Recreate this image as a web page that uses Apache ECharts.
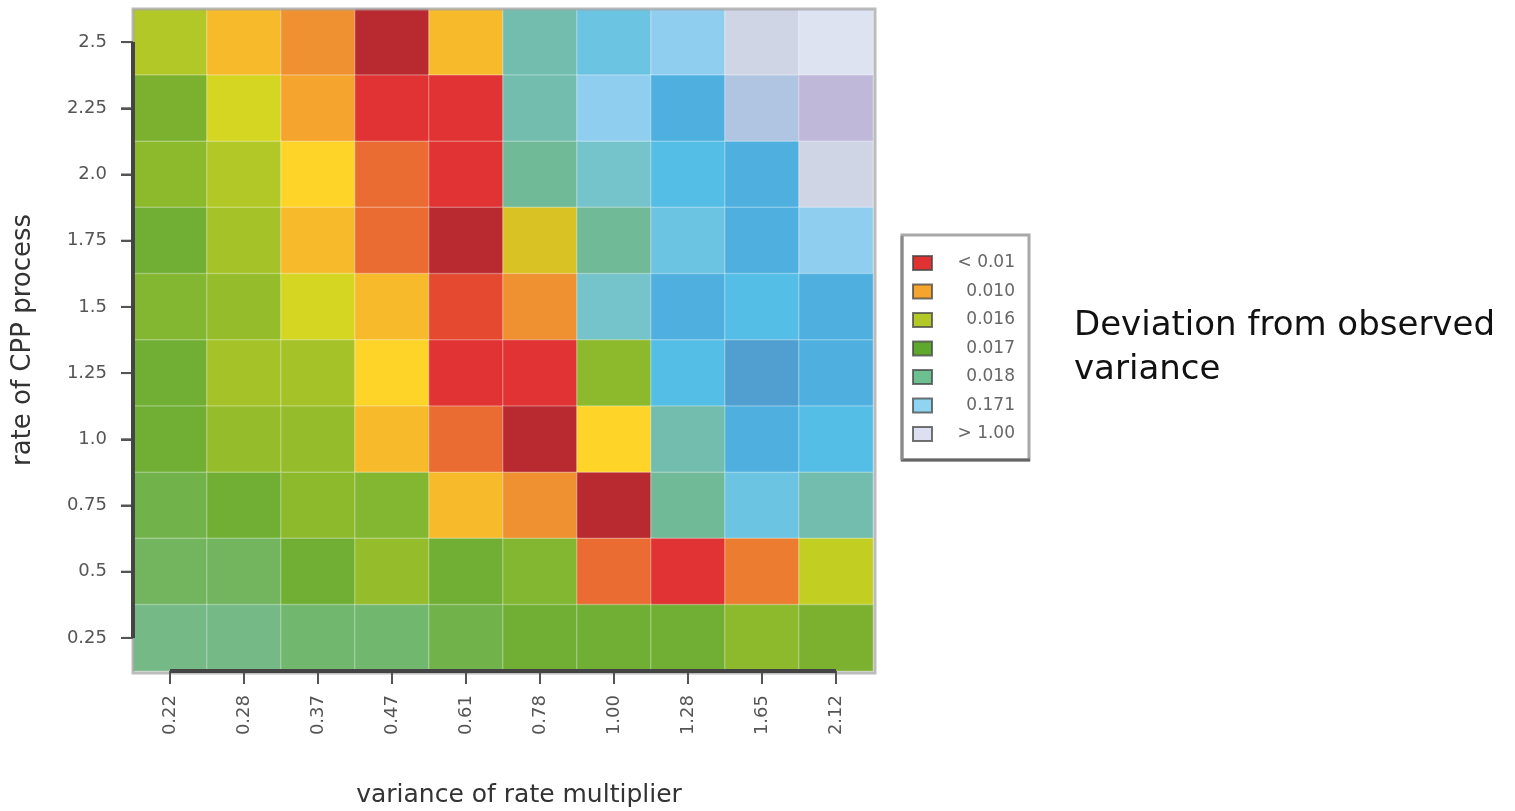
<!DOCTYPE html>
<html>
<head>
<meta charset="utf-8">
<script src="https://cdn.jsdelivr.net/npm/echarts@6/dist/echarts.min.js"></script>
<style>
  html, body { margin: 0; padding: 0; background: #ffffff; }
  #chart { width: 1515px; height: 811px; }
</style>
</head>
<body>
<div id="chart"></div>
<script>
// Axis categories
const multiplierVariance = ['0.22', '0.28', '0.37', '0.47', '0.61', '0.78', '1.00', '1.28', '1.65', '2.12'];
const cppRate = ['0.25', '0.5', '0.75', '1.0', '1.25', '1.5', '1.75', '2.0', '2.25', '2.5'];

// Deviation from observed variance, one row per CPP rate (columns follow multiplierVariance)
const dev_2_50 = [0.0150, 0.0116, 0.0101, 0.0050, 0.0116, 0.030, 0.070, 0.25, 1.2, 1.8];
const dev_2_25 = [0.01685, 0.0138, 0.0107, 0.0070, 0.0068, 0.030, 0.25, 0.125, 0.55, 0.85];
const dev_2_00 = [0.01625, 0.0150, 0.0125, 0.0091, 0.0070, 0.020, 0.050, 0.095, 0.125, 1.2];
const dev_1_75 = [0.01715, 0.0155, 0.0116, 0.0091, 0.0050, 0.0131, 0.020, 0.070, 0.125, 0.25];
const dev_1_50 = [0.01655, 0.0159, 0.0138, 0.0116, 0.0084, 0.0101, 0.050, 0.125, 0.095, 0.125];
const dev_1_25 = [0.01715, 0.0155, 0.0155, 0.0125, 0.0070, 0.0068, 0.01625, 0.095, 0.155, 0.125];
const dev_1_00 = [0.01715, 0.0159, 0.0159, 0.0116, 0.0091, 0.0050, 0.0125, 0.030, 0.125, 0.095];
const dev_0_75 = [0.01745, 0.01715, 0.01625, 0.01655, 0.0116, 0.0101, 0.0050, 0.020, 0.070, 0.030];
const dev_0_50 = [0.01775, 0.01775, 0.01715, 0.0159, 0.01715, 0.01655, 0.0091, 0.0070, 0.0096, 0.0145];
const dev_0_25 = [0.0184, 0.0184, 0.01805, 0.01805, 0.01745, 0.01715, 0.01715, 0.01715, 0.01625, 0.01685];

// Legend entries
const legendLabels = ['< 0.01', '0.010', '0.016', '0.017', '0.018', '0.171', '> 1.00'];

// Colour ramp: upper bounds of each band and the band colours (last band is open-ended)
const rampBreaks = [0.0060, 0.0080, 0.0088, 0.0094, 0.0098, 0.0104, 0.0110, 0.0122, 0.0128, 0.0134,
  0.0142, 0.0148, 0.0153, 0.0157, 0.0161, 0.0164, 0.0167, 0.0170, 0.0173, 0.0176,
  0.0179, 0.0182, 0.0186, 0.025, 0.04, 0.06, 0.08, 0.11, 0.14, 0.17,
  0.40, 0.70, 1.00, 1.50];
const rampColors = ['#B82A30', '#E13333', '#E54A30', '#EA6C33', '#EC7C30', '#EF9130', '#F5A52E', '#F7BA2B', '#FDD427', '#D9C224',
  '#D4D621', '#C2CF22', '#B2C826', '#A5C328', '#95BD2B', '#8CBA2C', '#84B731', '#7CB130', '#70AF34', '#72B24A',
  '#72B55E', '#72B76E', '#74B986', '#71BA98', '#72BDAE', '#76C4CB', '#6BC4E2', '#55BEE6', '#4FB0E0', '#519FD0',
  '#90CEF0', '#B0C5E2', '#C0B8D8', '#D0D5E6', '#DEE3F2'];
const legendColors = ['#E03232', '#F5A52E', '#B2C826', '#5EA82E', '#6CC090', '#90D5F0', '#DCE0F0'];

const rowsTopDown = [dev_2_50, dev_2_25, dev_2_00, dev_1_75, dev_1_50, dev_1_25, dev_1_00, dev_0_75, dev_0_50, dev_0_25];
const cells = [];
rowsTopDown.forEach((row, r) => {
  const yi = cppRate.length - 1 - r;
  row.forEach((v, xi) => cells.push([xi, yi, v]));
});

const pieces = rampColors.map((c, i) => {
  const p = { color: c };
  if (i > 0) p.gte = rampBreaks[i - 1];
  if (i < rampBreaks.length) p.lt = rampBreaks[i];
  return p;
});

const G = { left: 133, top: 9, width: 740, height: 662 };
const FONT = 'DejaVu Sans';

const chart = echarts.init(document.getElementById('chart'), null, { renderer: 'canvas' });

// Legend box drawn as a small key
const legendGraphics = [
  { type: 'rect', id: 'lgBox', z: 10, shape: { x: 902, y: 235, width: 127, height: 225 },
    style: { fill: '#ffffff', stroke: '#a8a8a8', lineWidth: 3 } },
  { type: 'line', id: 'lgBottom', z: 11, shape: { x1: 901, y1: 460, x2: 1030, y2: 460 },
    style: { stroke: '#666666', lineWidth: 3 } },
  { type: 'line', id: 'lgLeft', z: 11, shape: { x1: 902, y1: 236, x2: 902, y2: 460 },
    style: { stroke: '#8a8a8a', lineWidth: 3 } }
];
legendLabels.forEach((t, i) => {
  const cy = 263 + 28.5 * i;
  legendGraphics.push({ type: 'rect', id: 'lgSw' + i, z: 12,
    shape: { x: 913, y: cy - 7, width: 19, height: 14 },
    style: { fill: legendColors[i], stroke: 'rgba(70,70,70,0.75)', lineWidth: 2 } });
  legendGraphics.push({ type: 'text', id: 'lgTx' + i, z: 12, x: 1015, y: cy,
    style: { text: t, fill: '#666666', font: '17px "' + FONT + '"', textAlign: 'right', textVerticalAlign: 'middle' } });
});

chart.setOption({
  animation: false,
  backgroundColor: '#ffffff',
  title: {
    text: 'Deviation from observed\nvariance',
    left: 1069, top: 299,
    textStyle: { fontFamily: FONT, fontSize: 34, fontWeight: 'normal', color: '#111111', lineHeight: 44 }
  },
  grid: { left: G.left, top: G.top, width: G.width, height: G.height, containLabel: false, outerBoundsMode: 'none' },
  xAxis: {
    type: 'category',
    data: multiplierVariance,
    name: 'variance of rate multiplier',
    nameLocation: 'middle',
    nameGap: 112,
    nameTextStyle: { fontFamily: FONT, fontSize: 25, color: '#333333', padding: [0, 0, 0, 32] },
    axisLine: { show: false },
    axisTick: { show: true, alignWithLabel: true, length: 12, lineStyle: { color: '#555555', width: 2 } },
    axisLabel: { rotate: 90, margin: 24, fontFamily: FONT, fontSize: 18, color: '#555555' },
    splitLine: { show: false }
  },
  yAxis: {
    type: 'category',
    data: cppRate,
    name: 'rate of CPP process',
    nameLocation: 'middle',
    nameGap: 97,
    nameTextStyle: { fontFamily: FONT, fontSize: 26, color: '#333333' },
    axisLine: { show: false },
    axisTick: { show: true, alignWithLabel: true, length: 12, lineStyle: { color: '#555555', width: 2 } },
    axisLabel: { margin: 26, fontFamily: FONT, fontSize: 18, color: '#555555' },
    splitLine: { show: false }
  },
  visualMap: {
    type: 'piecewise',
    show: false,
    dimension: 2,
    pieces: pieces
  },
  series: [{
    type: 'heatmap',
    data: cells,
    itemStyle: { borderColor: 'rgba(255,255,255,0.25)', borderWidth: 1.5 },
    emphasis: { disabled: true }
  }],
  graphic: legendGraphics
});

// Panel frame, tick marks and range-frame axis lines spanning first to last tick
const xFirst = chart.convertToPixel({ xAxisIndex: 0 }, multiplierVariance[0]);
const xLast = chart.convertToPixel({ xAxisIndex: 0 }, multiplierVariance[multiplierVariance.length - 1]);
const yFirst = chart.convertToPixel({ yAxisIndex: 0 }, cppRate[0]);
const yLast = chart.convertToPixel({ yAxisIndex: 0 }, cppRate[cppRate.length - 1]);
const bottom = G.top + G.height;

const tickGraphics = [];
multiplierVariance.forEach((c, i) => {
  const px = chart.convertToPixel({ xAxisIndex: 0 }, c);
  tickGraphics.push({ type: 'line', id: 'xt' + i, z: 6,
    shape: { x1: px, y1: bottom, x2: px, y2: bottom + 13 },
    style: { stroke: '#555555', lineWidth: 2 } });
});
cppRate.forEach((c, i) => {
  const py = chart.convertToPixel({ yAxisIndex: 0 }, c);
  tickGraphics.push({ type: 'line', id: 'yt' + i, z: 6,
    shape: { x1: G.left - 12, y1: py, x2: G.left, y2: py },
    style: { stroke: '#555555', lineWidth: 2 } });
});

chart.setOption({
  graphic: legendGraphics.concat(tickGraphics, [
    { type: 'rect', id: 'frame', z: 5, silent: true,
      shape: { x: G.left, y: G.top, width: G.width + 2, height: G.height + 2 },
      style: { fill: 'none', stroke: 'rgba(165,165,165,0.75)', lineWidth: 3 } },
    { type: 'line', id: 'yRange', z: 6,
      shape: { x1: G.left, y1: yLast, x2: G.left, y2: yFirst },
      style: { stroke: '#444444', lineWidth: 4 } },
    { type: 'line', id: 'xRange', z: 6,
      shape: { x1: xFirst, y1: bottom, x2: xLast, y2: bottom },
      style: { stroke: '#444444', lineWidth: 4 } }
  ])
});
</script>
</body>
</html>
